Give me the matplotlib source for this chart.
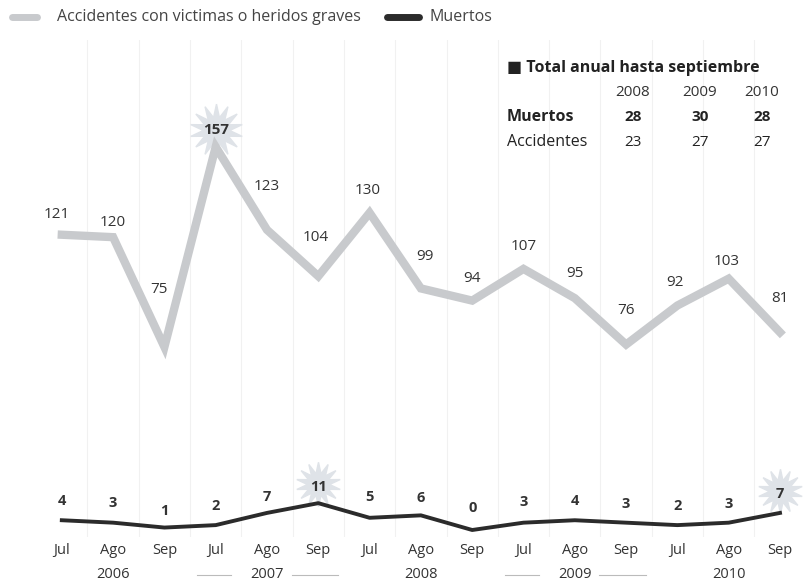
import matplotlib
matplotlib.use("Agg")
import matplotlib.pyplot as plt
from matplotlib.lines import Line2D
import matplotlib.transforms as mtransforms

plt.rcParams['font.family'] = ['Open Sans', 'DejaVu Sans']

months = ["Jul", "Ago", "Sep"] * 5
years = ["2006", "2007", "2008", "2009", "2010"]
accidentes = [121, 120, 75, 157, 123, 104, 130, 99, 94, 107, 95, 76, 92, 103, 81]
muertos = [4, 3, 1, 2, 7, 11, 5, 6, 0, 3, 4, 3, 2, 3, 7]

table_years = ["2008", "2009", "2010"]
table_muertos = [28, 30, 28]
table_accidentes = [23, 27, 27]

# label offsets (pixels above the point) - layout only
acc_dy = [20, 15, 57, 17, 43, 39, 22, 32, 22, 22, 25, 34, 23, 17, 34]
acc_dx = [-5, 0, -5, 0, 0, -3, -2, 4, 0, 0, 0, 0, -2, -2, 0]
mue_dy = [19, 20, 17, 19, 16, 16, 21, 17, 22, 21, 19, 19, 19, 19, 19]
highlight_acc = [3]
highlight_mue = [5, 14]

W, H = 804, 581
fig = plt.figure(figsize=(W / 100, H / 100), dpi=100)
fig.patch.set_facecolor("white")
ax = fig.add_axes([30 / W, 1 - 537 / H, 770 / W, 497 / H])
ax.set_xlim(-0.62, 14.39)
ax.set_ylim(-2.87, 200.8)
for s in ax.spines.values():
    s.set_visible(False)
ax.set_yticks([])

x = list(range(len(months)))
gray = "#c8cacd"
dark = "#2b2b2b"
txt = "#333333"
px_to_pt = 72 / 100

# faint vertical grid
for i in range(len(months) - 1):
    ax.axvline(i + 0.5, color="#f1f1f1", lw=0.8, zorder=0)

ax.plot(x, accidentes, color=gray, lw=6, solid_joinstyle="miter", zorder=2)
ax.plot(x, muertos, color=dark, lw=2.8, zorder=3)


def star(xv, yv, dy, size):
    trans = ax.transData + mtransforms.ScaledTranslation(0, dy * px_to_pt / 72, fig.dpi_scale_trans)
    ax.plot([xv], [yv], marker=(14, 1, 0), ms=size, color="#dfe3e8", mec="#dfe3e8",
            transform=trans, zorder=1, clip_on=False)


for i in highlight_acc:
    star(x[i], accidentes[i], acc_dy[i], 38)
for i in highlight_mue:
    star(x[i], muertos[i], mue_dy[i] + 3, 32)

for i, v in enumerate(accidentes):
    ax.annotate(str(v), (x[i], v), xytext=(acc_dx[i] * px_to_pt, acc_dy[i] * px_to_pt),
                textcoords="offset points", ha="center", va="center", fontsize=11,
                color=txt, fontweight="bold" if i in highlight_acc else "normal", zorder=5)
for i, v in enumerate(muertos):
    ax.annotate(str(v), (x[i], v), xytext=(0, mue_dy[i] * px_to_pt),
                textcoords="offset points", ha="center", va="center", fontsize=10.5,
                color=txt, fontweight="bold", zorder=5)

ax.set_xticks(x)
ax.set_xticklabels(months, fontsize=10.5, color=txt)
ax.tick_params(axis="x", length=0, pad=4)

btrans = mtransforms.blended_transform_factory(ax.transData, fig.transFigure)
for k, yr in enumerate(years):
    cx = 3 * k + 1
    ax.text(cx, 1 - 575 / H, yr, transform=btrans, ha="center", va="center",
            fontsize=10.5, color=txt)
    if k in (1, 3):
        for a, b in [(cx - 1.37, cx - 0.7), (cx + 0.48, cx + 1.38)]:
            ax.add_line(Line2D([a, b], [1 - 575 / H] * 2, transform=btrans,
                               color="#bbbbbb", lw=0.8, clip_on=False))

# legend
fy = 1 - 17 / H
fig.add_artist(Line2D([12 / W, 37 / W], [fy, fy], color=gray, lw=5, solid_capstyle="round"))
fig.text(57 / W, fy, "Accidentes con victimas o heridos graves", fontsize=11.5, color="#444444",
         va="center", ha="left")
fig.add_artist(Line2D([387 / W, 419 / W], [fy, fy], color=dark, lw=5, solid_capstyle="round"))
fig.text(430 / W, fy, "Muertos", fontsize=11.5, color="#444444", va="center", ha="left")

# table
fig.text(507 / W, 1 - 68 / H, "\u25A0 Total anual hasta septiembre", fontsize=11.5,
         fontweight="bold", color="#222222", va="center", ha="left")
cols = [633, 700, 762]
for c, yr in zip(cols, table_years):
    fig.text(c / W, 1 - 93 / H, yr, fontsize=11, color=txt, ha="center", va="center")
fig.text(507 / W, 1 - 117 / H, "Muertos", fontsize=11.5, fontweight="bold", color="#222222",
         va="center", ha="left")
fig.text(507 / W, 1 - 142 / H, "Accidentes", fontsize=11.5, color="#222222",
         va="center", ha="left")
for c, m, a in zip(cols, table_muertos, table_accidentes):
    fig.text(c / W, 1 - 117 / H, str(m), fontsize=11, fontweight="bold", color="#222222",
             ha="center", va="center")
    fig.text(c / W, 1 - 142 / H, str(a), fontsize=11, color="#222222",
             ha="center", va="center")

fig.savefig("out.png", dpi=100, facecolor="white")
